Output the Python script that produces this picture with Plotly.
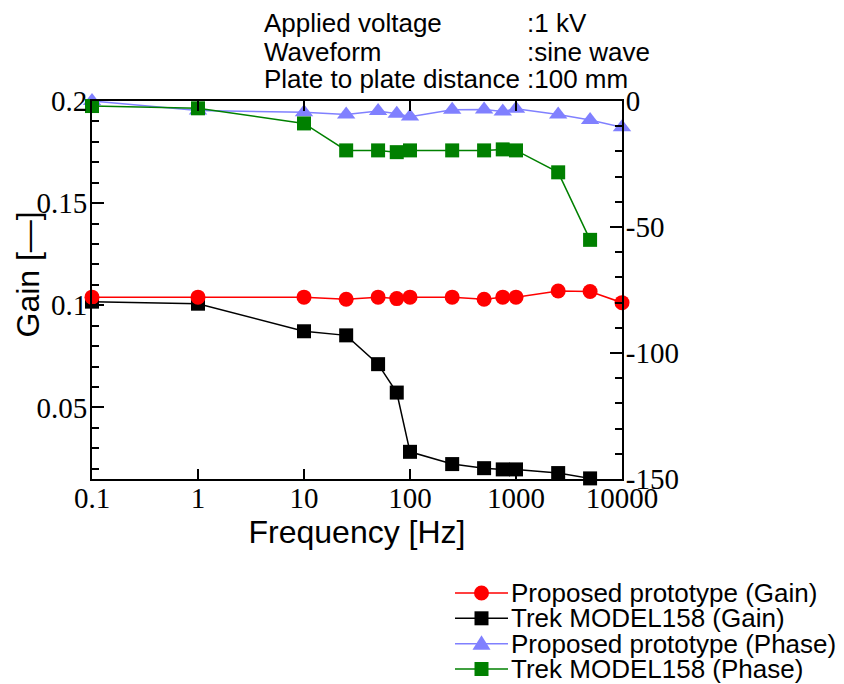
import plotly.graph_objects as go

# ---- data ----
freq = [0.1, 1, 10, 25, 50, 75, 100, 250, 500, 750, 1000, 2500, 5000, 10000]
proto_gain = [0.104, 0.104, 0.104, 0.103, 0.104, 0.1033, 0.104, 0.104, 0.103, 0.104, 0.104, 0.107, 0.1068, 0.1013]
trek_freq = [0.1, 1, 10, 25, 50, 75, 100, 250, 500, 750, 1000, 2500, 5000]
trek_gain = [0.1018, 0.1008, 0.0873, 0.0853, 0.0712, 0.0573, 0.0283, 0.0223, 0.0203, 0.0197, 0.0197, 0.0179, 0.0153]
proto_phase = [0.0, -3.8, -4.5, -5.4, -4.0, -5.1, -6.2, -3.5, -3.4, -4.2, -3.1, -5.4, -7.5, -10.4]
trek_phase = [-2.0, -2.9, -8.9, -19.6, -19.6, -20.3, -19.6, -19.6, -19.6, -19.2, -19.6, -28.3, -55.1]

x_ticks = [0.1, 1, 10, 100, 1000, 10000]
x_ticktext = ["0.1", "1", "10", "100", "1000", "10000"]
y2_ticks = [0, -50, -100, -150]
y2_ticktext = ["0", "-50", "-100", "-150"]

names = ["Proposed prototype (Gain)", "Trek MODEL158 (Gain)",
         "Proposed prototype (Phase)", "Trek MODEL158 (Phase)"]
colors = ["#FF0000", "#000000", "#8080FF", "#008000"]

info_labels = ["Applied voltage", "Waveform", "Plate to plate distance"]
info_values = [":1 kV", ":sine wave", ":100 mm"]

SANS = "Liberation Sans"
SERIF = "Liberation Serif"

OFF = 8  # page body margin
W, H = 844 - OFF, 684 - OFF
L, R, T, B = 92, 622, 101, 479  # plot area in window pixels


def px(x):
    return (x - L) / (R - L)


def py(y):
    return (B - y) / (B - T)


fig = go.Figure()

fig.add_trace(go.Scatter(x=trek_freq, y=trek_gain, mode="lines+markers", name=names[1],
                         line=dict(color=colors[1], width=1.5),
                         marker=dict(symbol="square", size=14, color=colors[1]),
                         cliponaxis=False, showlegend=False))
fig.add_trace(go.Scatter(x=freq, y=proto_gain, mode="lines+markers", name=names[0],
                         line=dict(color=colors[0], width=1.5),
                         marker=dict(symbol="circle", size=15, color=colors[0]),
                         cliponaxis=False, showlegend=False))
fig.add_trace(go.Scatter(x=freq, y=proto_phase, mode="lines+markers", name=names[2], yaxis="y2",
                         line=dict(color=colors[2], width=1.5),
                         marker=dict(symbol="triangle-up", size=16, color=colors[2]),
                         cliponaxis=False, showlegend=False))
fig.add_trace(go.Scatter(x=trek_freq, y=trek_phase, mode="lines+markers", name=names[3], yaxis="y2",
                         line=dict(color=colors[3], width=1.5),
                         marker=dict(symbol="square", size=14, color=colors[3]),
                         cliponaxis=False, showlegend=False))

tickfont = dict(family=SERIF, size=29, color="black")

fig.update_layout(
    width=W, height=H,
    margin=dict(l=L - OFF, r=W - (R - OFF), t=T - OFF, b=H - (B - OFF), pad=0),
    paper_bgcolor="white", plot_bgcolor="white",
    showlegend=False,
    xaxis=dict(type="log", range=[-1, 4], tickmode="array", tickvals=x_ticks, ticktext=x_ticktext,
               ticks="inside", ticklen=10, tickwidth=1.5, tickcolor="black",
               showline=True, linecolor="black", linewidth=2, mirror="ticks",
               showgrid=False, zeroline=False, tickfont=tickfont, ticklabelstandoff=-8,
               title=dict(text="Frequency [Hz]", font=dict(family=SANS, size=32, color="black"),
                          standoff=7)),
    yaxis=dict(range=[0.015, 0.2], tickmode="linear", tick0=0, dtick=0.05,
               ticks="inside", ticklen=12, tickwidth=1.5, tickcolor="black",
               minor=dict(dtick=0.01, tick0=0, ticks="inside", ticklen=7, tickwidth=1.5,
                          tickcolor="black", showgrid=False),
               showline=True, linecolor="black", linewidth=2, showgrid=False, zeroline=False,
               tickfont=tickfont, ticklabelstandoff=-3),
    yaxis2=dict(range=[-150, 0], overlaying="y", side="right", anchor="x",
                tickmode="array", tickvals=y2_ticks, ticktext=y2_ticktext,
                ticks="inside", ticklen=12, tickwidth=1.5, tickcolor="black",
                minor=dict(dtick=10, tick0=0, ticks="inside", ticklen=7, tickwidth=1.5,
                           tickcolor="black", showgrid=False),
                showline=True, linecolor="black", linewidth=2, showgrid=False, zeroline=False,
                tickfont=tickfont, ticklabelstandoff=-4),
)

annotations = []
# y-axis title
annotations.append(dict(text="Gain [\u2014]", x=px(27.5), y=py(275), xref="paper", yref="paper",
                        textangle=-90, showarrow=False, xanchor="center", yanchor="middle",
                        font=dict(family=SANS, size=32, color="black")))
# info text block
row_y = [23, 51.5, 79.5]
for lab, val, yy in zip(info_labels, info_values, row_y):
    annotations.append(dict(text=lab, x=px(262), y=py(yy), xref="paper", yref="paper",
                            showarrow=False, xanchor="left", yanchor="middle",
                            font=dict(family=SANS, size=26, color="black")))
    annotations.append(dict(text=val, x=px(525), y=py(yy), xref="paper", yref="paper",
                            showarrow=False, xanchor="left", yanchor="middle",
                            font=dict(family=SANS, size=26, color="black")))

# manual legend
leg_y = [593, 618.3, 643.7, 669]
shapes = []
for i, (nm, c, yy) in enumerate(zip(names, colors, leg_y)):
    annotations.append(dict(text=nm, x=px(509), y=py(yy), xref="paper", yref="paper",
                            showarrow=False, xanchor="left", yanchor="middle",
                            font=dict(family=SANS, size=26, color="black")))
    shapes.append(dict(type="line", xref="paper", yref="paper", x0=px(455), x1=px(508),
                       y0=py(yy), y1=py(yy), line=dict(color=c, width=1.5)))
    cx, cy = 481.5, yy
    if i == 0:
        r = 7.5
        shapes.append(dict(type="circle", xref="paper", yref="paper", x0=px(cx - r), x1=px(cx + r),
                           y0=py(cy + r), y1=py(cy - r), fillcolor=c, line=dict(width=0)))
    elif i in (1, 3):
        r = 7
        shapes.append(dict(type="rect", xref="paper", yref="paper", x0=px(cx - r), x1=px(cx + r),
                           y0=py(cy + r), y1=py(cy - r), fillcolor=c, line=dict(width=0)))
    else:
        p = "M {:.5f},{:.5f} L {:.5f},{:.5f} L {:.5f},{:.5f} Z".format(
            px(cx - 9), py(cy + 6), px(cx + 9), py(cy + 6), px(cx), py(cy - 8.5))
        shapes.append(dict(type="path", xref="paper", yref="paper", path=p, fillcolor=c,
                           line=dict(width=0)))

fig.update_layout(annotations=annotations, shapes=shapes)

fig.write_html("out.html")
